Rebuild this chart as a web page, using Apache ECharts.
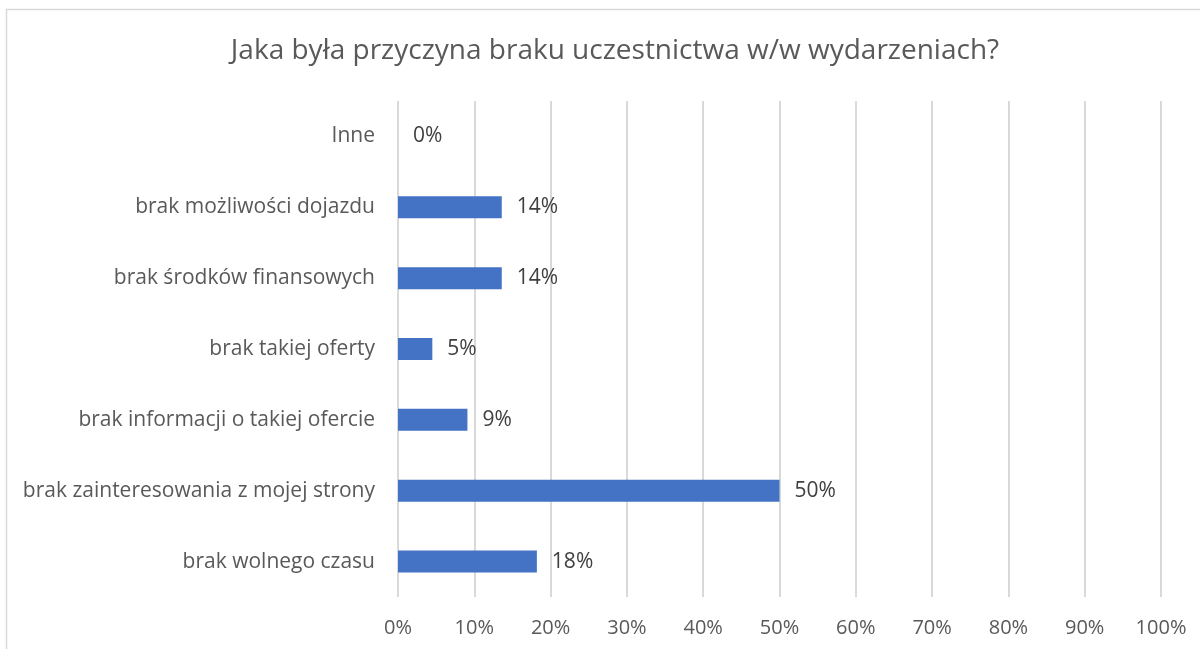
<!DOCTYPE html>
<html>
<head>
<meta charset="utf-8">
<script src="https://cdn.jsdelivr.net/npm/echarts@6/dist/echarts.min.js"></script>
<style>
  html, body { margin: 0; padding: 0; background: #fff; }
  #chart { width: 1200px; height: 649px; }
</style>
</head>
<body>
<div id="chart"></div>
<script>
// kategorie od dołu do góry (oś kategorii w ECharts rośnie w górę)
const categories = [
    'brak wolnego czasu',
    'brak zainteresowania z mojej strony',
    'brak informacji o takiej ofercie',
    'brak takiej oferty',
    'brak środków finansowych',
    'brak możliwości dojazdu',
    'Inne'
];
// udział odpowiedzi w %
const shares = [18.2, 50, 9.1, 4.5, 13.6, 13.6, 0];
const xTicks = [0, 10, 20, 30, 40, 50, 60, 70, 80, 90, 100];

const chart = echarts.init(document.getElementById('chart'));
const font = '"Open Sans", "Noto Sans", sans-serif';

chart.setOption({
    animation: false,
    title: {
        text: 'Jaka była przyczyna braku uczestnictwa w/w wydarzeniach?',
        left: 610,
        top: 32,
        textAlign: 'center',
        textStyle: {
            fontFamily: font,
            fontSize: 28,
            fontWeight: 'normal',
            color: '#595959'
        }
    },
    graphic: [{
        type: 'rect',
        shape: { x: 6.5, y: 9.5, width: 1300, height: 700 },
        style: { fill: 'none', stroke: '#d9d9d9', lineWidth: 1.5 },
        silent: true,
        z: -1
    }],
    grid: {
        left: 398,
        right: 39,
        top: 101,
        bottom: 52
    },
    xAxis: {
        type: 'value',
        min: xTicks[0],
        max: xTicks[xTicks.length - 1],
        interval: 10,
        axisLine: { show: false },
        axisTick: { show: false },
        splitLine: { lineStyle: { color: '#d9d9d9', width: 2 } },
        axisLabel: {
            margin: 21,
            fontFamily: font,
            fontSize: 20,
            color: '#595959',
            formatter: v => v + '%'
        }
    },
    yAxis: {
        type: 'category',
        data: categories,
        axisLine: { show: false },
        axisTick: { show: false },
        axisLabel: {
            margin: 23,
            fontFamily: font,
            fontSize: 21,
            color: '#595959'
        }
    },
    series: [{
        type: 'bar',
        data: shares,
        barWidth: 22,
        itemStyle: { color: '#4472C4' },
        label: {
            show: true,
            position: 'right',
            distance: 15,
            fontFamily: font,
            fontSize: 21,
            color: '#404040',
            formatter: p => Math.round(p.value) + '%'
        }
    }]
});
</script>
</body>
</html>
